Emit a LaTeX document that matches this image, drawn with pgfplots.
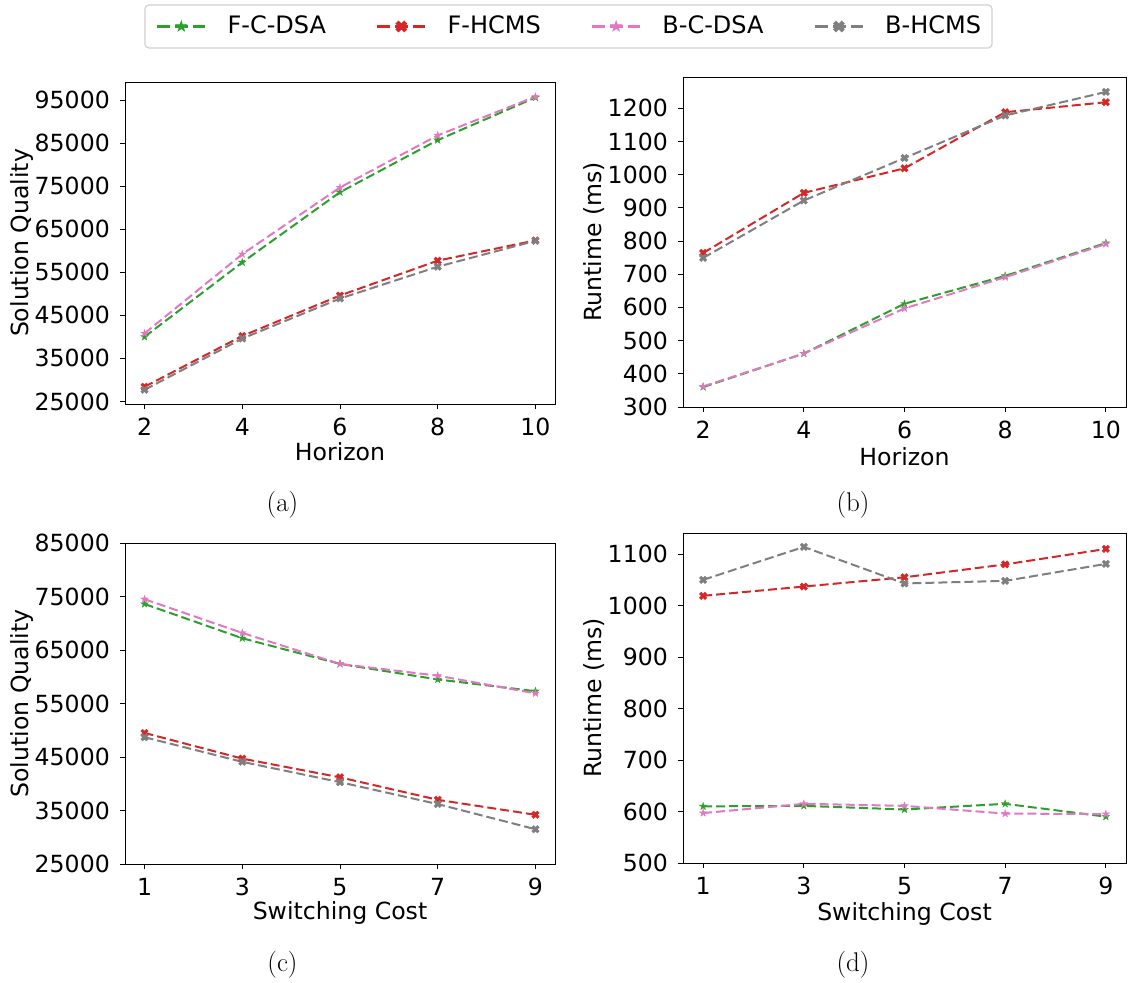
\documentclass[border=0pt]{standalone}
\usepackage{fontspec}
\usepackage{pgfplots}
\pgfplotsset{compat=1.18}
\newfontfamily\djv{DejaVu Sans}

\definecolor{cgreen}{HTML}{2CA02C}
\definecolor{cred}{HTML}{D62728}
\definecolor{cpink}{HTML}{E377C2}
\definecolor{cgrey}{HTML}{7F7F7F}

% filled five-point star
\pgfdeclareplotmark{fstar}{%
  \pgfpathmoveto{\pgfpointpolar{90}{\pgfplotmarksize}}%
  \pgfpathlineto{\pgfpointpolar{126}{0.382*\pgfplotmarksize}}%
  \pgfpathlineto{\pgfpointpolar{162}{\pgfplotmarksize}}%
  \pgfpathlineto{\pgfpointpolar{198}{0.382*\pgfplotmarksize}}%
  \pgfpathlineto{\pgfpointpolar{234}{\pgfplotmarksize}}%
  \pgfpathlineto{\pgfpointpolar{270}{0.382*\pgfplotmarksize}}%
  \pgfpathlineto{\pgfpointpolar{306}{\pgfplotmarksize}}%
  \pgfpathlineto{\pgfpointpolar{342}{0.382*\pgfplotmarksize}}%
  \pgfpathlineto{\pgfpointpolar{18}{\pgfplotmarksize}}%
  \pgfpathlineto{\pgfpointpolar{54}{0.382*\pgfplotmarksize}}%
  \pgfpathclose
  \pgfusepathqfillstroke}

% filled bold cross
\pgfdeclareplotmark{fcross}{%
  \pgfpathmoveto{\pgfpoint{0.4714*\pgfplotmarksize}{-0.9428*\pgfplotmarksize}}%
  \pgfpathlineto{\pgfpoint{0pt}{-0.4714*\pgfplotmarksize}}%
  \pgfpathlineto{\pgfpoint{-0.4714*\pgfplotmarksize}{-0.9428*\pgfplotmarksize}}%
  \pgfpathlineto{\pgfpoint{-0.9428*\pgfplotmarksize}{-0.4714*\pgfplotmarksize}}%
  \pgfpathlineto{\pgfpoint{-0.4714*\pgfplotmarksize}{0pt}}%
  \pgfpathlineto{\pgfpoint{-0.9428*\pgfplotmarksize}{0.4714*\pgfplotmarksize}}%
  \pgfpathlineto{\pgfpoint{-0.4714*\pgfplotmarksize}{0.9428*\pgfplotmarksize}}%
  \pgfpathlineto{\pgfpoint{0pt}{0.4714*\pgfplotmarksize}}%
  \pgfpathlineto{\pgfpoint{0.4714*\pgfplotmarksize}{0.9428*\pgfplotmarksize}}%
  \pgfpathlineto{\pgfpoint{0.9428*\pgfplotmarksize}{0.4714*\pgfplotmarksize}}%
  \pgfpathlineto{\pgfpoint{0.4714*\pgfplotmarksize}{0pt}}%
  \pgfpathlineto{\pgfpoint{0.9428*\pgfplotmarksize}{-0.4714*\pgfplotmarksize}}%
  \pgfpathclose
  \pgfusepathqfillstroke}

\pgfplotsset{
  panel/.style={
    scale only axis,
    axis line style={line width=1pt, black},
    tick align=outside,
    tick pos=left,
    major tick length=5pt,
    tick style={black, line width=1pt},
    /pgf/number format/assume math mode=true,
    /pgf/number format/1000 sep={},
    scaled ticks=false,
    tick label style={font=\djv\fontsize{23.6}{28}\selectfont},
    label style={font=\djv\fontsize{23.6}{28}\selectfont},
    xticklabel style={inner sep=0pt, anchor=north, yshift=-9pt},
    yticklabel style={inner sep=0pt, anchor=east, xshift=-10pt},
    every axis plot/.append style={line width=2pt, dash pattern=on 9pt off 4pt,
      mark size=4pt, mark options={solid, line width=0.3pt}},
  },
  sFC/.style={color=cgreen, mark=fstar},
  sFH/.style={color=cred, mark=fcross},
  sBC/.style={color=cpink, mark=fstar},
  sBH/.style={color=cgrey, mark=fcross},
}

\begin{document}
\begin{tikzpicture}
\useasboundingbox (0,0) rectangle (1129pt,-982pt);

% (a) solution quality against horizon
\begin{axis}[panel, at={(125pt,-404pt)}, anchor=south west,
  width=430pt, height=322pt,
  xmin=1.6, xmax=10.4, ymin=24400, ymax=99200,
  xtick={2,4,6,8,10},
  ytick={25000,35000,45000,55000,65000,75000,85000,95000},
  xlabel={Horizon}, ylabel={Solution Quality},
  xlabel style={at={(axis description cs:0.5,-0.174)}, anchor=base},
  ylabel style={at={(axis description cs:-0.2407,0.5)}, anchor=center},
  legend columns=4,
  legend cell align=left,
  legend image code/.code={\draw[mark repeat=2, mark phase=2, #1,
      line width=2.6pt, dash pattern=on 13pt off 5pt,
      mark size=6pt, mark options={solid, line width=0.3pt}]
    plot coordinates {(0pt,0pt) (24pt,0pt) (48pt,0pt)};},
  legend style={at={(axis description cs:1.0314,1.1724)}, anchor=center,
    draw=black!18, line width=1.2pt, rounded corners=4pt,
    font=\djv\fontsize{24}{28}\selectfont,
    inner xsep=11pt, inner ysep=11pt,
    nodes={inner sep=0pt, text height=17.5pt, text depth=3.5pt},
    /tikz/every odd column/.append style={column sep=21pt},
    /tikz/every even column/.append style={column sep=50pt}},
]
\addplot[sFC] coordinates {(2,40000) (4,57300) (6,73600) (8,85700) (10,95600)};
\addlegendentry{F-C-DSA}
\addplot[sFH] coordinates {(2,28400) (4,40200) (6,49600) (8,57700) (10,62400)};
\addlegendentry{F-HCMS}
\addplot[sBC] coordinates {(2,40800) (4,59200) (6,74700) (8,86800) (10,95800)};
\addlegendentry{B-C-DSA}
\addplot[sBH] coordinates {(2,27700) (4,39600) (6,48900) (8,56300) (10,62300)};
\addlegendentry{B-HCMS}
\end{axis}

% (b) runtime against horizon
\begin{axis}[panel, at={(683pt,-407pt)}, anchor=south west,
  width=443pt, height=330pt,
  xmin=1.6, xmax=10.4, ymin=300, ymax=1294,
  xtick={2,4,6,8,10},
  ytick={300,400,500,600,700,800,900,1000,1100,1200},
  xlabel={Horizon}, ylabel={Runtime (ms)},
  xlabel style={at={(axis description cs:0.5,-0.176)}, anchor=base},
  ylabel style={at={(axis description cs:-0.2009,0.5)}, anchor=center},
]
\addplot[sFC] coordinates {(2,360) (4,461) (6,611) (8,695) (10,794)};
\addplot[sFH] coordinates {(2,764) (4,945) (6,1019) (8,1188) (10,1218)};
\addplot[sBC] coordinates {(2,362) (4,461) (6,597) (8,691) (10,791)};
\addplot[sBH] coordinates {(2,749) (4,922) (6,1050) (8,1178) (10,1249)};
\end{axis}

% (c) solution quality against switching cost
\begin{axis}[panel, at={(125pt,-864pt)}, anchor=south west,
  width=430pt, height=321pt,
  xmin=0.6, xmax=9.4, ymin=25000, ymax=85000,
  xtick={1,3,5,7,9},
  ytick={25000,35000,45000,55000,65000,75000,85000},
  xlabel={Switching Cost}, ylabel={Solution Quality},
  xlabel style={at={(axis description cs:0.5,-0.174)}, anchor=base},
  ylabel style={at={(axis description cs:-0.2407,0.5)}, anchor=center},
]
\addplot[sFC] coordinates {(1,73600) (3,67200) (5,62400) (7,59500) (9,57300)};
\addplot[sFH] coordinates {(1,49500) (3,44700) (5,41200) (7,37000) (9,34200)};
\addplot[sBC] coordinates {(1,74500) (3,68200) (5,62400) (7,60200) (9,56900)};
\addplot[sBH] coordinates {(1,48700) (3,44100) (5,40300) (7,36200) (9,31500)};
\end{axis}

% (d) runtime against switching cost
\begin{axis}[panel, at={(683pt,-863pt)}, anchor=south west,
  width=443pt, height=330pt,
  xmin=0.6, xmax=9.4, ymin=500, ymax=1141,
  xtick={1,3,5,7,9},
  ytick={500,600,700,800,900,1000,1100},
  xlabel={Switching Cost}, ylabel={Runtime (ms)},
  xlabel style={at={(axis description cs:0.5,-0.173)}, anchor=base},
  ylabel style={at={(axis description cs:-0.2009,0.5)}, anchor=center},
]
\addplot[sFC] coordinates {(1,610) (3,611) (5,604) (7,615) (9,590)};
\addplot[sFH] coordinates {(1,1019) (3,1037) (5,1055) (7,1080) (9,1110)};
\addplot[sBC] coordinates {(1,597) (3,615) (5,611) (7,596) (9,595)};
\addplot[sBH] coordinates {(1,1050) (3,1114) (5,1043) (7,1048) (9,1081)};
\end{axis}

% sub-figure captions
\node[font=\fontsize{27}{32}\selectfont] at (282.5pt,-505pt) {(a)};
\node[font=\fontsize{27}{32}\selectfont] at (853pt,-505pt) {(b)};
\node[font=\fontsize{27}{32}\selectfont] at (282.5pt,-965pt) {(c)};
\node[font=\fontsize{27}{32}\selectfont] at (853pt,-965pt) {(d)};
\end{tikzpicture}
\end{document}
